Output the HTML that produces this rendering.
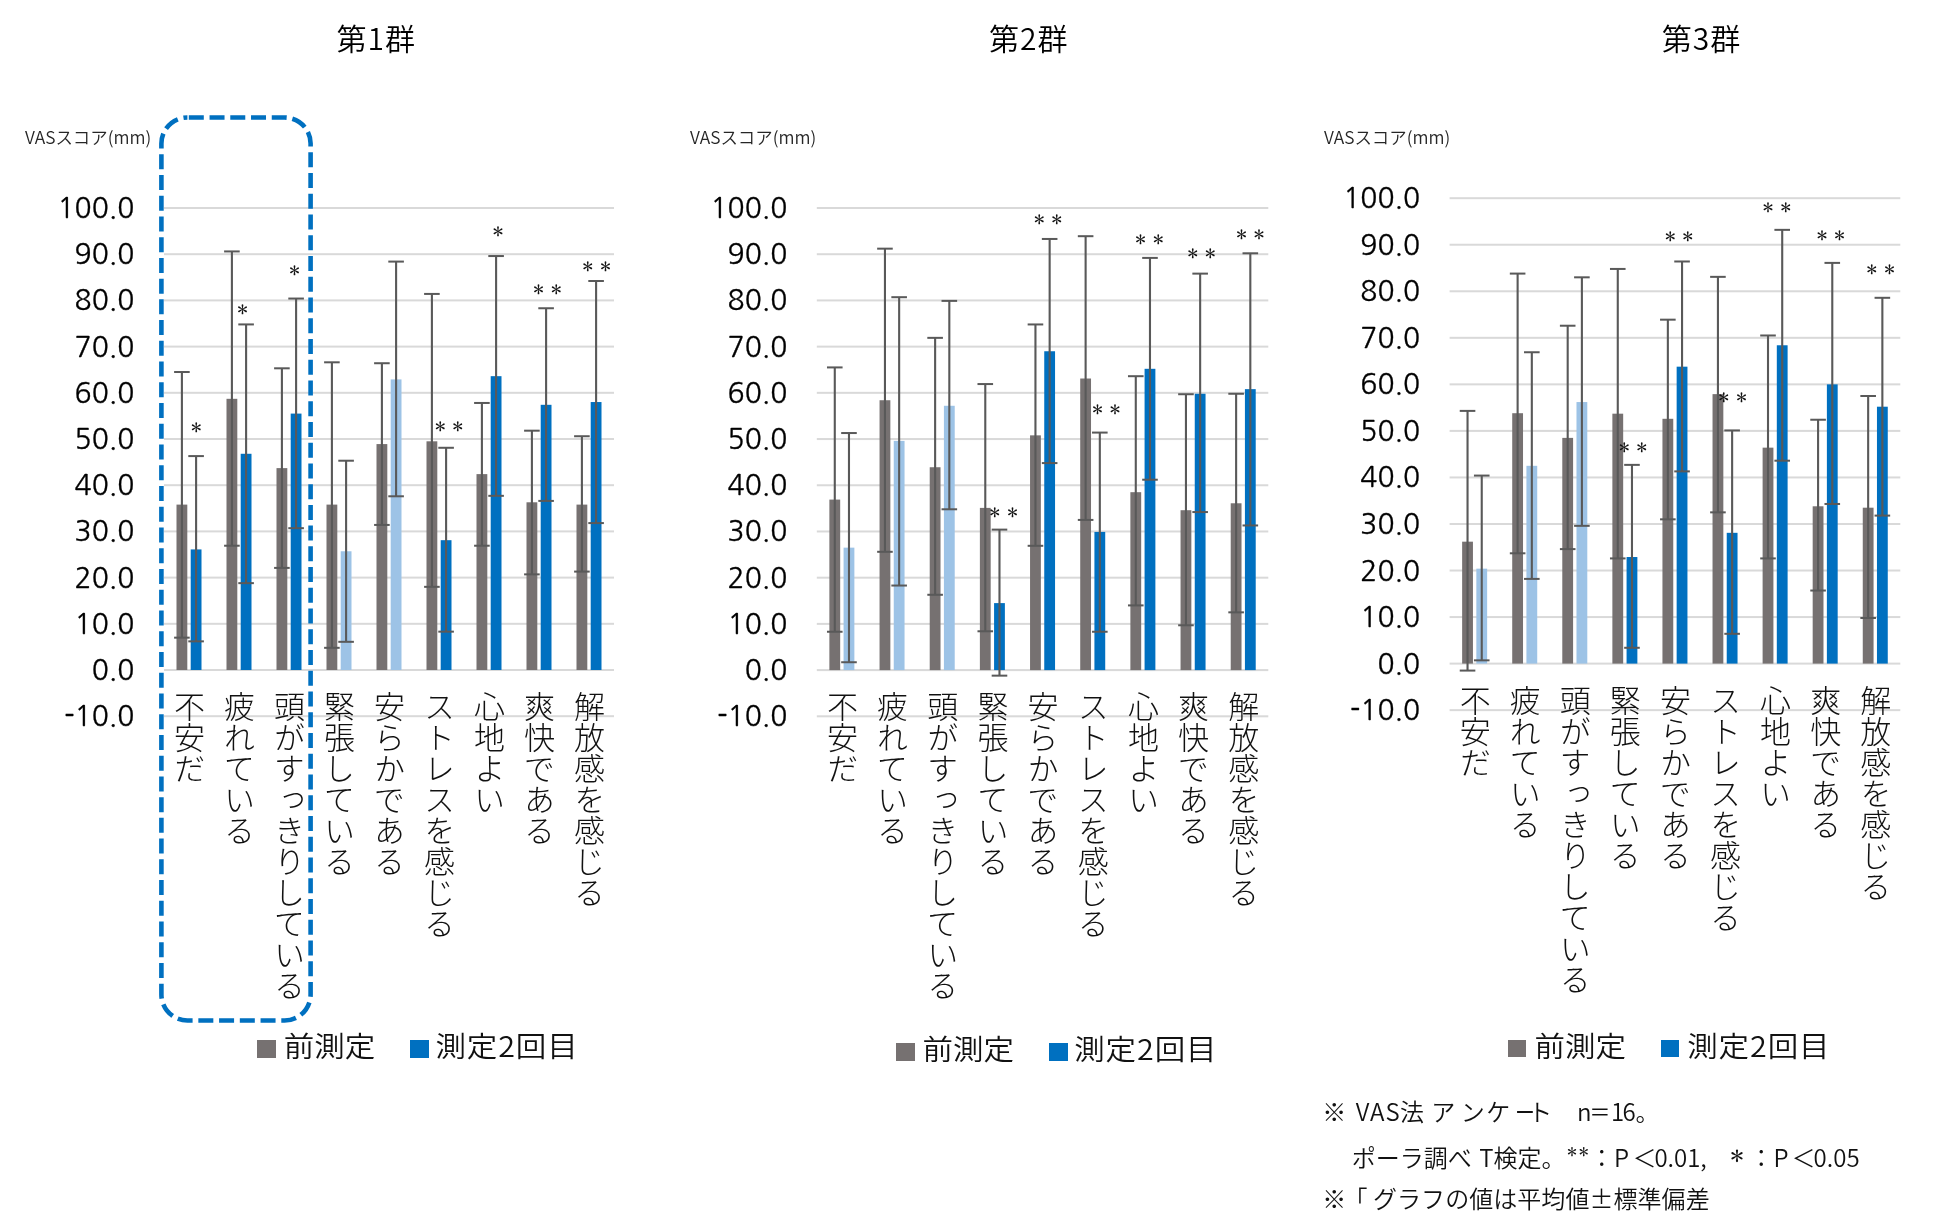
<!DOCTYPE html>
<html lang="ja"><head><meta charset="utf-8"><title>VAS</title>
<style>
html,body{margin:0;padding:0;background:#fff;}
body{width:1950px;height:1231px;position:relative;overflow:hidden;
 font-family:"Liberation Sans","Noto Sans CJK JP",sans-serif;color:#000;}
svg{position:absolute;left:0;top:0;}
#tx{position:absolute;left:0;top:0;width:1950px;height:1231px;will-change:transform;}
.cat{position:absolute;width:40px;writing-mode:vertical-rl;text-orientation:upright;
 font-family:"Noto Sans CJK JP",sans-serif;font-weight:300;font-size:31px;line-height:40px;
 white-space:nowrap;color:#111;}
.ast{position:absolute;width:20px;height:20px;line-height:20px;text-align:center;
 font-family:"IPAGothic",sans-serif;font-size:15px;color:#111;}
.yl{position:absolute;width:100px;text-align:right;font-size:28.2px;line-height:34px;color:#000;
 font-family:"NanumGothic",sans-serif;-webkit-text-stroke:0.35px #000;}
.title{position:absolute;width:120px;text-align:center;font-size:30px;line-height:40px;
 font-family:"Noto Sans CJK JP",sans-serif;font-weight:350;color:#000;letter-spacing:1px;text-indent:1px;}
.vas{position:absolute;font-size:17.4px;line-height:24px;white-space:nowrap;color:#262626;
 font-family:"Noto Sans CJK JP",sans-serif;font-weight:350;}
.sq{position:absolute;width:18.5px;height:17.4px;}
.lt{position:absolute;white-space:nowrap;font-size:30.5px;line-height:44px;transform:scaleY(0.95);transform-origin:0 0;
 font-family:"Noto Sans CJK JP",sans-serif;font-weight:350;color:#111;}
.note{position:absolute;white-space:nowrap;font-size:24px;line-height:32px;color:#111;
 font-family:"Noto Sans CJK JP",sans-serif;font-weight:350;}
</style></head><body>
<svg width="1950" height="1231" viewBox="0 0 1950 1231">
<rect x="164" y="715.2" width="450" height="2" fill="#D9D9D9"/>
<rect x="164" y="669" width="450" height="2" fill="#D9D9D9"/>
<rect x="164" y="622.8" width="450" height="2" fill="#D9D9D9"/>
<rect x="164" y="576.6" width="450" height="2" fill="#D9D9D9"/>
<rect x="164" y="530.4" width="450" height="2" fill="#D9D9D9"/>
<rect x="164" y="484.2" width="450" height="2" fill="#D9D9D9"/>
<rect x="164" y="438" width="450" height="2" fill="#D9D9D9"/>
<rect x="164" y="391.8" width="450" height="2" fill="#D9D9D9"/>
<rect x="164" y="345.6" width="450" height="2" fill="#D9D9D9"/>
<rect x="164" y="299.4" width="450" height="2" fill="#D9D9D9"/>
<rect x="164" y="253.2" width="450" height="2" fill="#D9D9D9"/>
<rect x="164" y="207" width="450" height="2" fill="#D9D9D9"/>
<rect x="176.5" y="504.6" width="10.8" height="165.4" fill="#767171"/>
<rect x="190.7" y="549.42" width="10.8" height="120.58" fill="#0070C0"/>
<rect x="180.85" y="372.01" width="2.1" height="265.65" fill="#595959"/>
<rect x="174.1" y="371.01" width="15.6" height="2" fill="#595959"/>
<rect x="174.1" y="636.66" width="15.6" height="2" fill="#595959"/>
<rect x="195.05" y="456.09" width="2.1" height="185.26" fill="#595959"/>
<rect x="188.3" y="455.09" width="15.6" height="2" fill="#595959"/>
<rect x="188.3" y="640.36" width="15.6" height="2" fill="#595959"/>
<rect x="226.5" y="398.81" width="10.8" height="271.19" fill="#767171"/>
<rect x="240.7" y="453.78" width="10.8" height="216.22" fill="#0070C0"/>
<rect x="230.85" y="251.43" width="2.1" height="294.29" fill="#595959"/>
<rect x="224.1" y="250.43" width="15.6" height="2" fill="#595959"/>
<rect x="224.1" y="544.72" width="15.6" height="2" fill="#595959"/>
<rect x="245.05" y="324.42" width="2.1" height="258.72" fill="#595959"/>
<rect x="238.3" y="323.42" width="15.6" height="2" fill="#595959"/>
<rect x="238.3" y="582.14" width="15.6" height="2" fill="#595959"/>
<rect x="276.5" y="468.11" width="10.8" height="201.89" fill="#767171"/>
<rect x="290.7" y="413.59" width="10.8" height="256.41" fill="#0070C0"/>
<rect x="280.85" y="368.31" width="2.1" height="199.58" fill="#595959"/>
<rect x="274.1" y="367.31" width="15.6" height="2" fill="#595959"/>
<rect x="274.1" y="566.9" width="15.6" height="2" fill="#595959"/>
<rect x="295.05" y="298.55" width="2.1" height="229.61" fill="#595959"/>
<rect x="288.3" y="297.55" width="15.6" height="2" fill="#595959"/>
<rect x="288.3" y="527.17" width="15.6" height="2" fill="#595959"/>
<rect x="326.5" y="504.6" width="10.8" height="165.4" fill="#767171"/>
<rect x="340.7" y="551.27" width="10.8" height="118.73" fill="#9DC3E6"/>
<rect x="330.85" y="362.31" width="2.1" height="285.52" fill="#595959"/>
<rect x="324.1" y="361.31" width="15.6" height="2" fill="#595959"/>
<rect x="324.1" y="646.82" width="15.6" height="2" fill="#595959"/>
<rect x="345.05" y="460.71" width="2.1" height="181.1" fill="#595959"/>
<rect x="338.3" y="459.71" width="15.6" height="2" fill="#595959"/>
<rect x="338.3" y="640.82" width="15.6" height="2" fill="#595959"/>
<rect x="376.5" y="444.08" width="10.8" height="225.92" fill="#767171"/>
<rect x="390.7" y="379.4" width="10.8" height="290.6" fill="#9DC3E6"/>
<rect x="380.85" y="363.23" width="2.1" height="161.7" fill="#595959"/>
<rect x="374.1" y="362.23" width="15.6" height="2" fill="#595959"/>
<rect x="374.1" y="523.93" width="15.6" height="2" fill="#595959"/>
<rect x="395.05" y="261.59" width="2.1" height="234.7" fill="#595959"/>
<rect x="388.3" y="260.59" width="15.6" height="2" fill="#595959"/>
<rect x="388.3" y="495.29" width="15.6" height="2" fill="#595959"/>
<rect x="426.5" y="441.31" width="10.8" height="228.69" fill="#767171"/>
<rect x="440.7" y="540.18" width="10.8" height="129.82" fill="#0070C0"/>
<rect x="430.85" y="293.93" width="2.1" height="292.91" fill="#595959"/>
<rect x="424.1" y="292.93" width="15.6" height="2" fill="#595959"/>
<rect x="424.1" y="585.84" width="15.6" height="2" fill="#595959"/>
<rect x="445.05" y="447.78" width="2.1" height="183.88" fill="#595959"/>
<rect x="438.3" y="446.78" width="15.6" height="2" fill="#595959"/>
<rect x="438.3" y="630.65" width="15.6" height="2" fill="#595959"/>
<rect x="476.5" y="474.11" width="10.8" height="195.89" fill="#767171"/>
<rect x="490.7" y="376.17" width="10.8" height="293.83" fill="#0070C0"/>
<rect x="480.85" y="402.96" width="2.1" height="142.76" fill="#595959"/>
<rect x="474.1" y="401.96" width="15.6" height="2" fill="#595959"/>
<rect x="474.1" y="544.72" width="15.6" height="2" fill="#595959"/>
<rect x="495.05" y="256.05" width="2.1" height="239.78" fill="#595959"/>
<rect x="488.3" y="255.05" width="15.6" height="2" fill="#595959"/>
<rect x="488.3" y="494.83" width="15.6" height="2" fill="#595959"/>
<rect x="526.5" y="502.29" width="10.8" height="167.71" fill="#767171"/>
<rect x="540.7" y="404.81" width="10.8" height="265.19" fill="#0070C0"/>
<rect x="530.85" y="430.68" width="2.1" height="143.68" fill="#595959"/>
<rect x="524.1" y="429.68" width="15.6" height="2" fill="#595959"/>
<rect x="524.1" y="573.37" width="15.6" height="2" fill="#595959"/>
<rect x="545.05" y="308.25" width="2.1" height="192.65" fill="#595959"/>
<rect x="538.3" y="307.25" width="15.6" height="2" fill="#595959"/>
<rect x="538.3" y="499.91" width="15.6" height="2" fill="#595959"/>
<rect x="576.5" y="504.6" width="10.8" height="165.4" fill="#767171"/>
<rect x="590.7" y="402.04" width="10.8" height="267.96" fill="#0070C0"/>
<rect x="580.85" y="436.23" width="2.1" height="135.37" fill="#595959"/>
<rect x="574.1" y="435.23" width="15.6" height="2" fill="#595959"/>
<rect x="574.1" y="570.59" width="15.6" height="2" fill="#595959"/>
<rect x="595.05" y="281" width="2.1" height="242.09" fill="#595959"/>
<rect x="588.3" y="280" width="15.6" height="2" fill="#595959"/>
<rect x="588.3" y="522.08" width="15.6" height="2" fill="#595959"/>
<rect x="816.8" y="715.31" width="451.5" height="2" fill="#D9D9D9"/>
<rect x="816.8" y="669.1" width="451.5" height="2" fill="#D9D9D9"/>
<rect x="816.8" y="622.89" width="451.5" height="2" fill="#D9D9D9"/>
<rect x="816.8" y="576.68" width="451.5" height="2" fill="#D9D9D9"/>
<rect x="816.8" y="530.47" width="451.5" height="2" fill="#D9D9D9"/>
<rect x="816.8" y="484.26" width="451.5" height="2" fill="#D9D9D9"/>
<rect x="816.8" y="438.05" width="451.5" height="2" fill="#D9D9D9"/>
<rect x="816.8" y="391.84" width="451.5" height="2" fill="#D9D9D9"/>
<rect x="816.8" y="345.63" width="451.5" height="2" fill="#D9D9D9"/>
<rect x="816.8" y="299.42" width="451.5" height="2" fill="#D9D9D9"/>
<rect x="816.8" y="253.21" width="451.5" height="2" fill="#D9D9D9"/>
<rect x="816.8" y="207" width="451.5" height="2" fill="#D9D9D9"/>
<rect x="829.38" y="499.59" width="10.8" height="170.51" fill="#767171"/>
<rect x="843.58" y="547.64" width="10.8" height="122.46" fill="#9DC3E6"/>
<rect x="833.73" y="367.42" width="2.1" height="264.32" fill="#595959"/>
<rect x="826.98" y="366.42" width="15.6" height="2" fill="#595959"/>
<rect x="826.98" y="630.75" width="15.6" height="2" fill="#595959"/>
<rect x="847.93" y="433.04" width="2.1" height="229.2" fill="#595959"/>
<rect x="841.18" y="432.04" width="15.6" height="2" fill="#595959"/>
<rect x="841.18" y="661.24" width="15.6" height="2" fill="#595959"/>
<rect x="879.55" y="400.23" width="10.8" height="269.87" fill="#767171"/>
<rect x="893.75" y="440.9" width="10.8" height="229.2" fill="#9DC3E6"/>
<rect x="883.9" y="248.66" width="2.1" height="303.14" fill="#595959"/>
<rect x="877.15" y="247.66" width="15.6" height="2" fill="#595959"/>
<rect x="877.15" y="550.8" width="15.6" height="2" fill="#595959"/>
<rect x="898.1" y="297.19" width="2.1" height="288.35" fill="#595959"/>
<rect x="891.35" y="296.19" width="15.6" height="2" fill="#595959"/>
<rect x="891.35" y="584.54" width="15.6" height="2" fill="#595959"/>
<rect x="929.72" y="467.24" width="10.8" height="202.86" fill="#767171"/>
<rect x="943.92" y="405.78" width="10.8" height="264.32" fill="#9DC3E6"/>
<rect x="934.07" y="337.85" width="2.1" height="256.93" fill="#595959"/>
<rect x="927.32" y="336.85" width="15.6" height="2" fill="#595959"/>
<rect x="927.32" y="593.78" width="15.6" height="2" fill="#595959"/>
<rect x="948.27" y="300.88" width="2.1" height="208.41" fill="#595959"/>
<rect x="941.52" y="299.88" width="15.6" height="2" fill="#595959"/>
<rect x="941.52" y="508.29" width="15.6" height="2" fill="#595959"/>
<rect x="979.88" y="507.9" width="10.8" height="162.2" fill="#767171"/>
<rect x="994.08" y="603.1" width="10.8" height="67" fill="#0070C0"/>
<rect x="984.23" y="384.06" width="2.1" height="247.22" fill="#595959"/>
<rect x="977.48" y="383.06" width="15.6" height="2" fill="#595959"/>
<rect x="977.48" y="630.28" width="15.6" height="2" fill="#595959"/>
<rect x="998.43" y="529.62" width="2.1" height="146.02" fill="#595959"/>
<rect x="991.68" y="528.62" width="15.6" height="2" fill="#595959"/>
<rect x="991.68" y="674.65" width="15.6" height="2" fill="#595959"/>
<rect x="1030.05" y="435.35" width="10.8" height="234.75" fill="#767171"/>
<rect x="1044.25" y="351.25" width="10.8" height="318.85" fill="#0070C0"/>
<rect x="1034.4" y="324.45" width="2.1" height="221.35" fill="#595959"/>
<rect x="1027.65" y="323.45" width="15.6" height="2" fill="#595959"/>
<rect x="1027.65" y="544.8" width="15.6" height="2" fill="#595959"/>
<rect x="1048.6" y="238.96" width="2.1" height="224.12" fill="#595959"/>
<rect x="1041.85" y="237.96" width="15.6" height="2" fill="#595959"/>
<rect x="1041.85" y="462.08" width="15.6" height="2" fill="#595959"/>
<rect x="1080.22" y="378.51" width="10.8" height="291.59" fill="#767171"/>
<rect x="1094.42" y="531.93" width="10.8" height="138.17" fill="#0070C0"/>
<rect x="1084.57" y="236.19" width="2.1" height="283.73" fill="#595959"/>
<rect x="1077.82" y="235.19" width="15.6" height="2" fill="#595959"/>
<rect x="1077.82" y="518.92" width="15.6" height="2" fill="#595959"/>
<rect x="1098.77" y="432.58" width="2.1" height="199.17" fill="#595959"/>
<rect x="1092.02" y="431.58" width="15.6" height="2" fill="#595959"/>
<rect x="1092.02" y="630.75" width="15.6" height="2" fill="#595959"/>
<rect x="1130.38" y="492.19" width="10.8" height="177.91" fill="#767171"/>
<rect x="1144.58" y="368.81" width="10.8" height="301.29" fill="#0070C0"/>
<rect x="1134.73" y="376.2" width="2.1" height="229.2" fill="#595959"/>
<rect x="1127.98" y="375.2" width="15.6" height="2" fill="#595959"/>
<rect x="1127.98" y="604.41" width="15.6" height="2" fill="#595959"/>
<rect x="1148.93" y="257.91" width="2.1" height="221.81" fill="#595959"/>
<rect x="1142.18" y="256.91" width="15.6" height="2" fill="#595959"/>
<rect x="1142.18" y="478.71" width="15.6" height="2" fill="#595959"/>
<rect x="1180.55" y="510.21" width="10.8" height="159.89" fill="#767171"/>
<rect x="1194.75" y="393.76" width="10.8" height="276.34" fill="#0070C0"/>
<rect x="1184.9" y="394.23" width="2.1" height="231.05" fill="#595959"/>
<rect x="1178.15" y="393.23" width="15.6" height="2" fill="#595959"/>
<rect x="1178.15" y="624.28" width="15.6" height="2" fill="#595959"/>
<rect x="1199.1" y="273.62" width="2.1" height="238.44" fill="#595959"/>
<rect x="1192.35" y="272.62" width="15.6" height="2" fill="#595959"/>
<rect x="1192.35" y="511.06" width="15.6" height="2" fill="#595959"/>
<rect x="1230.72" y="503.28" width="10.8" height="166.82" fill="#767171"/>
<rect x="1244.92" y="389.14" width="10.8" height="280.96" fill="#0070C0"/>
<rect x="1235.07" y="393.76" width="2.1" height="218.57" fill="#595959"/>
<rect x="1228.32" y="392.76" width="15.6" height="2" fill="#595959"/>
<rect x="1228.32" y="611.34" width="15.6" height="2" fill="#595959"/>
<rect x="1249.27" y="253.29" width="2.1" height="272.18" fill="#595959"/>
<rect x="1242.52" y="252.29" width="15.6" height="2" fill="#595959"/>
<rect x="1242.52" y="524.46" width="15.6" height="2" fill="#595959"/>
<rect x="1449.6" y="709.14" width="450.7" height="2" fill="#D9D9D9"/>
<rect x="1449.6" y="662.6" width="450.7" height="2" fill="#D9D9D9"/>
<rect x="1449.6" y="616.06" width="450.7" height="2" fill="#D9D9D9"/>
<rect x="1449.6" y="569.52" width="450.7" height="2" fill="#D9D9D9"/>
<rect x="1449.6" y="522.98" width="450.7" height="2" fill="#D9D9D9"/>
<rect x="1449.6" y="476.44" width="450.7" height="2" fill="#D9D9D9"/>
<rect x="1449.6" y="429.9" width="450.7" height="2" fill="#D9D9D9"/>
<rect x="1449.6" y="383.36" width="450.7" height="2" fill="#D9D9D9"/>
<rect x="1449.6" y="336.82" width="450.7" height="2" fill="#D9D9D9"/>
<rect x="1449.6" y="290.28" width="450.7" height="2" fill="#D9D9D9"/>
<rect x="1449.6" y="243.74" width="450.7" height="2" fill="#D9D9D9"/>
<rect x="1449.6" y="197.2" width="450.7" height="2" fill="#D9D9D9"/>
<rect x="1462.14" y="541.67" width="10.8" height="121.93" fill="#767171"/>
<rect x="1476.34" y="568.66" width="10.8" height="94.94" fill="#9DC3E6"/>
<rect x="1466.49" y="410.89" width="2.1" height="259.69" fill="#595959"/>
<rect x="1459.74" y="409.89" width="15.6" height="2" fill="#595959"/>
<rect x="1459.74" y="669.58" width="15.6" height="2" fill="#595959"/>
<rect x="1480.69" y="475.58" width="2.1" height="184.76" fill="#595959"/>
<rect x="1473.94" y="474.58" width="15.6" height="2" fill="#595959"/>
<rect x="1473.94" y="659.34" width="15.6" height="2" fill="#595959"/>
<rect x="1512.22" y="413.21" width="10.8" height="250.39" fill="#767171"/>
<rect x="1526.42" y="465.81" width="10.8" height="197.79" fill="#9DC3E6"/>
<rect x="1516.57" y="273.59" width="2.1" height="279.71" fill="#595959"/>
<rect x="1509.82" y="272.59" width="15.6" height="2" fill="#595959"/>
<rect x="1509.82" y="552.3" width="15.6" height="2" fill="#595959"/>
<rect x="1530.77" y="352.25" width="2.1" height="226.65" fill="#595959"/>
<rect x="1524.02" y="351.25" width="15.6" height="2" fill="#595959"/>
<rect x="1524.02" y="577.9" width="15.6" height="2" fill="#595959"/>
<rect x="1562.29" y="437.88" width="10.8" height="225.72" fill="#767171"/>
<rect x="1576.49" y="402.05" width="10.8" height="261.55" fill="#9DC3E6"/>
<rect x="1566.64" y="325.72" width="2.1" height="223.39" fill="#595959"/>
<rect x="1559.89" y="324.72" width="15.6" height="2" fill="#595959"/>
<rect x="1559.89" y="548.11" width="15.6" height="2" fill="#595959"/>
<rect x="1580.84" y="277.32" width="2.1" height="248.52" fill="#595959"/>
<rect x="1574.09" y="276.32" width="15.6" height="2" fill="#595959"/>
<rect x="1574.09" y="524.84" width="15.6" height="2" fill="#595959"/>
<rect x="1612.37" y="413.68" width="10.8" height="249.92" fill="#767171"/>
<rect x="1626.57" y="557.02" width="10.8" height="106.58" fill="#0070C0"/>
<rect x="1616.72" y="268.94" width="2.1" height="289.48" fill="#595959"/>
<rect x="1609.97" y="267.94" width="15.6" height="2" fill="#595959"/>
<rect x="1609.97" y="557.42" width="15.6" height="2" fill="#595959"/>
<rect x="1630.92" y="464.87" width="2.1" height="182.9" fill="#595959"/>
<rect x="1624.17" y="463.87" width="15.6" height="2" fill="#595959"/>
<rect x="1624.17" y="646.78" width="15.6" height="2" fill="#595959"/>
<rect x="1662.45" y="418.8" width="10.8" height="244.8" fill="#767171"/>
<rect x="1676.65" y="366.67" width="10.8" height="296.93" fill="#0070C0"/>
<rect x="1666.8" y="319.67" width="2.1" height="199.66" fill="#595959"/>
<rect x="1660.05" y="318.67" width="15.6" height="2" fill="#595959"/>
<rect x="1660.05" y="518.33" width="15.6" height="2" fill="#595959"/>
<rect x="1681" y="261.49" width="2.1" height="209.9" fill="#595959"/>
<rect x="1674.25" y="260.49" width="15.6" height="2" fill="#595959"/>
<rect x="1674.25" y="470.39" width="15.6" height="2" fill="#595959"/>
<rect x="1712.53" y="394.13" width="10.8" height="269.47" fill="#767171"/>
<rect x="1726.73" y="532.82" width="10.8" height="130.78" fill="#0070C0"/>
<rect x="1716.88" y="276.85" width="2.1" height="235.49" fill="#595959"/>
<rect x="1710.13" y="275.85" width="15.6" height="2" fill="#595959"/>
<rect x="1710.13" y="511.35" width="15.6" height="2" fill="#595959"/>
<rect x="1731.08" y="430.43" width="2.1" height="203.38" fill="#595959"/>
<rect x="1724.33" y="429.43" width="15.6" height="2" fill="#595959"/>
<rect x="1724.33" y="632.81" width="15.6" height="2" fill="#595959"/>
<rect x="1762.61" y="447.65" width="10.8" height="215.95" fill="#767171"/>
<rect x="1776.81" y="345.27" width="10.8" height="318.33" fill="#0070C0"/>
<rect x="1766.96" y="335.49" width="2.1" height="222.93" fill="#595959"/>
<rect x="1760.21" y="334.49" width="15.6" height="2" fill="#595959"/>
<rect x="1760.21" y="557.42" width="15.6" height="2" fill="#595959"/>
<rect x="1781.16" y="229.85" width="2.1" height="230.84" fill="#595959"/>
<rect x="1774.41" y="228.85" width="15.6" height="2" fill="#595959"/>
<rect x="1774.41" y="459.69" width="15.6" height="2" fill="#595959"/>
<rect x="1812.68" y="506.29" width="10.8" height="157.31" fill="#767171"/>
<rect x="1826.88" y="384.36" width="10.8" height="279.24" fill="#0070C0"/>
<rect x="1817.03" y="419.73" width="2.1" height="170.8" fill="#595959"/>
<rect x="1810.28" y="418.73" width="15.6" height="2" fill="#595959"/>
<rect x="1810.28" y="589.53" width="15.6" height="2" fill="#595959"/>
<rect x="1831.23" y="262.89" width="2.1" height="241.08" fill="#595959"/>
<rect x="1824.48" y="261.89" width="15.6" height="2" fill="#595959"/>
<rect x="1824.48" y="502.97" width="15.6" height="2" fill="#595959"/>
<rect x="1862.76" y="507.69" width="10.8" height="155.91" fill="#767171"/>
<rect x="1876.96" y="406.7" width="10.8" height="256.9" fill="#0070C0"/>
<rect x="1867.11" y="396" width="2.1" height="222" fill="#595959"/>
<rect x="1860.36" y="395" width="15.6" height="2" fill="#595959"/>
<rect x="1860.36" y="616.99" width="15.6" height="2" fill="#595959"/>
<rect x="1881.31" y="297.8" width="2.1" height="217.81" fill="#595959"/>
<rect x="1874.56" y="296.8" width="15.6" height="2" fill="#595959"/>
<rect x="1874.56" y="514.6" width="15.6" height="2" fill="#595959"/>
<rect x="161.4" y="117.5" width="149.2" height="903" rx="26" ry="26" fill="none" stroke="#0070C0" stroke-width="4.6" stroke-dasharray="15 5.74" stroke-dashoffset="-1.4"/>
</svg>
<div id="tx">
<div class="cat" style="left:169px;top:691px">不安だ</div>
<div class="cat" style="left:219px;top:691px">疲れている</div>
<div class="cat" style="left:269px;top:691px">頭がすっきりしている</div>
<div class="cat" style="left:319px;top:691px">緊張している</div>
<div class="cat" style="left:369px;top:691px">安らかである</div>
<div class="cat" style="left:419px;top:691px">ストレスを感じる</div>
<div class="cat" style="left:469px;top:691px">心地よい</div>
<div class="cat" style="left:519px;top:691px">爽快である</div>
<div class="cat" style="left:569px;top:691px">解放感を感じる</div>
<div class="ast" style="left:186.3px;top:417.5px">＊</div>
<div class="ast" style="left:232.6px;top:299.5px">＊</div>
<div class="ast" style="left:284.6px;top:260.6px">＊</div>
<div class="ast" style="left:430.2px;top:417.3px">＊</div>
<div class="ast" style="left:447.8px;top:417.3px">＊</div>
<div class="ast" style="left:487.9px;top:221.5px">＊</div>
<div class="ast" style="left:528.6px;top:279.6px">＊</div>
<div class="ast" style="left:546.2px;top:279.6px">＊</div>
<div class="ast" style="left:577.8px;top:256.8px">＊</div>
<div class="ast" style="left:595.4px;top:256.8px">＊</div>
<div class="yl" style="left:34.4px;top:699.2px">-10.0</div>
<div class="yl" style="left:34.4px;top:653px">0.0</div>
<div class="yl" style="left:34.4px;top:606.8px">10.0</div>
<div class="yl" style="left:34.4px;top:560.6px">20.0</div>
<div class="yl" style="left:34.4px;top:514.4px">30.0</div>
<div class="yl" style="left:34.4px;top:468.2px">40.0</div>
<div class="yl" style="left:34.4px;top:422px">50.0</div>
<div class="yl" style="left:34.4px;top:375.8px">60.0</div>
<div class="yl" style="left:34.4px;top:329.6px">70.0</div>
<div class="yl" style="left:34.4px;top:283.4px">80.0</div>
<div class="yl" style="left:34.4px;top:237.2px">90.0</div>
<div class="yl" style="left:34.4px;top:191px">100.0</div>
<div class="title" style="left:315.8px;top:17px">第1群</div>
<div class="vas" style="left:25.1px;top:125.3px">VASスコア(mm)</div>
<div class="sq" style="left:257.3px;top:1040.4px;background:#767171"></div>
<div class="sq" style="left:410px;top:1040.4px;background:#0070C0"></div>
<div class="lt" style="left:283.7px;top:1023.7px">前測定</div>
<div class="lt" style="left:435.4px;top:1023.7px;letter-spacing:0.9px">測定2回目</div>
<div class="cat" style="left:821.88px;top:691px">不安だ</div>
<div class="cat" style="left:872.05px;top:691px">疲れている</div>
<div class="cat" style="left:922.22px;top:691px">頭がすっきりしている</div>
<div class="cat" style="left:972.38px;top:691px">緊張している</div>
<div class="cat" style="left:1022.55px;top:691px">安らかである</div>
<div class="cat" style="left:1072.72px;top:691px">ストレスを感じる</div>
<div class="cat" style="left:1122.88px;top:691px">心地よい</div>
<div class="cat" style="left:1173.05px;top:691px">爽快である</div>
<div class="cat" style="left:1223.22px;top:691px">解放感を感じる</div>
<div class="ast" style="left:984.8px;top:502.6px">＊</div>
<div class="ast" style="left:1002.4px;top:502.6px">＊</div>
<div class="ast" style="left:1029.2px;top:210.1px">＊</div>
<div class="ast" style="left:1046.8px;top:210.1px">＊</div>
<div class="ast" style="left:1087.4px;top:400.2px">＊</div>
<div class="ast" style="left:1105px;top:400.2px">＊</div>
<div class="ast" style="left:1130.6px;top:229.5px">＊</div>
<div class="ast" style="left:1148.2px;top:229.5px">＊</div>
<div class="ast" style="left:1182.7px;top:243.5px">＊</div>
<div class="ast" style="left:1200.3px;top:243.5px">＊</div>
<div class="ast" style="left:1231.5px;top:224.9px">＊</div>
<div class="ast" style="left:1249.1px;top:224.9px">＊</div>
<div class="yl" style="left:687.4px;top:699.31px">-10.0</div>
<div class="yl" style="left:687.4px;top:653.1px">0.0</div>
<div class="yl" style="left:687.4px;top:606.89px">10.0</div>
<div class="yl" style="left:687.4px;top:560.68px">20.0</div>
<div class="yl" style="left:687.4px;top:514.47px">30.0</div>
<div class="yl" style="left:687.4px;top:468.26px">40.0</div>
<div class="yl" style="left:687.4px;top:422.05px">50.0</div>
<div class="yl" style="left:687.4px;top:375.84px">60.0</div>
<div class="yl" style="left:687.4px;top:329.63px">70.0</div>
<div class="yl" style="left:687.4px;top:283.42px">80.0</div>
<div class="yl" style="left:687.4px;top:237.21px">90.0</div>
<div class="yl" style="left:687.4px;top:191px">100.0</div>
<div class="title" style="left:968.3px;top:17px">第2群</div>
<div class="vas" style="left:690.1px;top:125.3px">VASスコア(mm)</div>
<div class="sq" style="left:896.2px;top:1043.2px;background:#767171"></div>
<div class="sq" style="left:1049.1px;top:1043.2px;background:#0070C0"></div>
<div class="lt" style="left:922.5px;top:1027.2px">前測定</div>
<div class="lt" style="left:1074.2px;top:1027.2px;letter-spacing:0.9px">測定2回目</div>
<div class="cat" style="left:1454.64px;top:685px">不安だ</div>
<div class="cat" style="left:1504.72px;top:685px">疲れている</div>
<div class="cat" style="left:1554.79px;top:685px">頭がすっきりしている</div>
<div class="cat" style="left:1604.87px;top:685px">緊張している</div>
<div class="cat" style="left:1654.95px;top:685px">安らかである</div>
<div class="cat" style="left:1705.03px;top:685px">ストレスを感じる</div>
<div class="cat" style="left:1755.11px;top:685px">心地よい</div>
<div class="cat" style="left:1805.18px;top:685px">爽快である</div>
<div class="cat" style="left:1855.26px;top:685px">解放感を感じる</div>
<div class="ast" style="left:1614.2px;top:438.1px">＊</div>
<div class="ast" style="left:1631.8px;top:438.1px">＊</div>
<div class="ast" style="left:1660.2px;top:226.6px">＊</div>
<div class="ast" style="left:1677.8px;top:226.6px">＊</div>
<div class="ast" style="left:1713.8px;top:387.5px">＊</div>
<div class="ast" style="left:1731.4px;top:387.5px">＊</div>
<div class="ast" style="left:1758.1px;top:198.1px">＊</div>
<div class="ast" style="left:1775.7px;top:198.1px">＊</div>
<div class="ast" style="left:1812px;top:226.2px">＊</div>
<div class="ast" style="left:1829.6px;top:226.2px">＊</div>
<div class="ast" style="left:1861.8px;top:260.4px">＊</div>
<div class="ast" style="left:1879.4px;top:260.4px">＊</div>
<div class="yl" style="left:1320.1px;top:693.14px">-10.0</div>
<div class="yl" style="left:1320.1px;top:646.6px">0.0</div>
<div class="yl" style="left:1320.1px;top:600.06px">10.0</div>
<div class="yl" style="left:1320.1px;top:553.52px">20.0</div>
<div class="yl" style="left:1320.1px;top:506.98px">30.0</div>
<div class="yl" style="left:1320.1px;top:460.44px">40.0</div>
<div class="yl" style="left:1320.1px;top:413.9px">50.0</div>
<div class="yl" style="left:1320.1px;top:367.36px">60.0</div>
<div class="yl" style="left:1320.1px;top:320.82px">70.0</div>
<div class="yl" style="left:1320.1px;top:274.28px">80.0</div>
<div class="yl" style="left:1320.1px;top:227.74px">90.0</div>
<div class="yl" style="left:1320.1px;top:181.2px">100.0</div>
<div class="title" style="left:1641px;top:17px">第3群</div>
<div class="vas" style="left:1324.1px;top:125.3px">VASスコア(mm)</div>
<div class="sq" style="left:1507.8px;top:1040.1px;background:#767171"></div>
<div class="sq" style="left:1660.8px;top:1040.1px;background:#0070C0"></div>
<div class="lt" style="left:1534.6px;top:1024.1px">前測定</div>
<div class="lt" style="left:1687.2px;top:1024.1px;letter-spacing:0.9px">測定2回目</div>
<div class="note" style="left:1322.2px;top:1095px;">※</div>
<div class="note" style="left:1355.7px;top:1095px;letter-spacing:1px;">VAS</div>
<div class="note" style="left:1400px;top:1095px;">法</div>
<div class="note" style="left:1431.2px;top:1095px;">ア</div>
<div class="note" style="left:1460.7px;top:1095px;">ン</div>
<div class="note" style="left:1486.3px;top:1095px;">ケ</div>
<div class="note" style="left:1515px;top:1095px;transform:scaleX(0.83);transform-origin:0 0;">ー</div>
<div class="note" style="left:1528.2px;top:1095px;">ト</div>
<div class="note" style="left:1576.9px;top:1095px;">n</div>
<div class="note" style="left:1591px;top:1095px;transform:scaleX(1.35);transform-origin:0 0;">=</div>
<div class="note" style="left:1611px;top:1095px;">1</div>
<div class="note" style="left:1622.4px;top:1095px;">6</div>
<div class="note" style="left:1635.5px;top:1095px;">。</div>
<div class="note" style="left:1351.7px;top:1141.2px;">ポーラ調べ</div>
<div class="note" style="left:1479.3px;top:1141.2px;">T検定。</div>
<div class="note" style="left:1589.7px;top:1141.2px;">：</div>
<div class="note" style="left:1614px;top:1141.2px;">P</div>
<div class="note" style="left:1632.4px;top:1141.2px;">＜</div>
<div class="note" style="left:1654.4px;top:1141.2px;">0.01,</div>
<div class="note" style="left:1749.2px;top:1141.2px;">：</div>
<div class="note" style="left:1773.4px;top:1141.2px;">P</div>
<div class="note" style="left:1791.6px;top:1141.2px;">＜</div>
<div class="note" style="left:1813.6px;top:1141.2px;">0.05</div>
<div class="note" style="left:1322.2px;top:1182px;">※</div>
<div class="note" style="left:1343.6px;top:1182px;">「</div>
<div class="note" style="left:1373px;top:1182px;letter-spacing:0.05px;">グラフの値は平均値±標準偏差</div>
<div class="ast" style="left:1562px;top:1142.2px;font-size:14px">＊</div>
<div class="ast" style="left:1573.7px;top:1142.2px;font-size:14px">＊</div>
<div class="ast" style="left:1726.9px;top:1146.2px;font-size:19px">＊</div>
</div>
</body></html>
